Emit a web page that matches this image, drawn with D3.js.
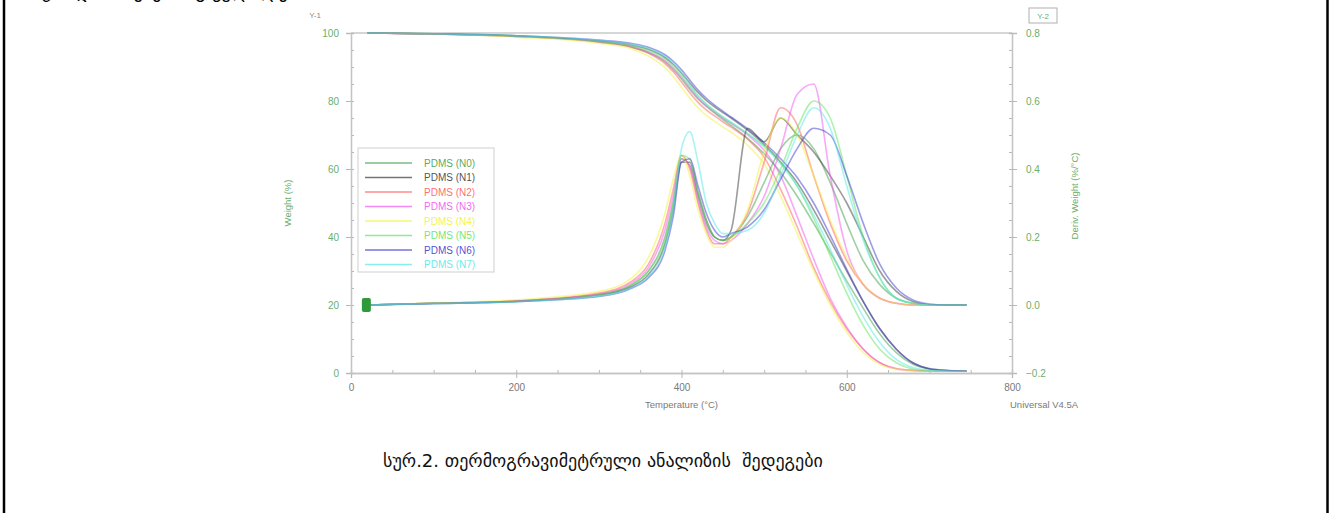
<!DOCTYPE html>
<html>
<head>
<meta charset="utf-8">
<script src="https://cdn.jsdelivr.net/npm/d3@7"></script>
<style>
  body { margin: 0; background: #fff; }
  svg { display: block; }
  .tick text { font-family: "Liberation Sans", Arial, sans-serif; }
</style>
</head>
<body>
<div id="chart"></div>
<script>
// Temperature grid (°C) shared by every series
var TEMPS = [20, 100, 200, 300, 340, 360, 380, 390, 400, 410, 420, 430, 440, 450, 460, 480, 500, 520, 540, 560, 580, 600, 620, 640, 660, 680, 700, 720, 745];

// Series names and colours (legend order)
var NAMES = ['PDMS (N0)', 'PDMS (N1)', 'PDMS (N2)', 'PDMS (N3)', 'PDMS (N4)', 'PDMS (N5)', 'PDMS (N6)', 'PDMS (N7)'];
var COLORS = ['#3f9f4a', '#3a3a3a', '#ff5c5c', '#f055f0', '#f2f23a', '#5ee65e', '#3a3ad0', '#55e8e8'];

// Weight (%) - left axis
var W_N0 = [100, 99.8, 99.2, 97.4, 95.8, 94.2, 91.5, 89.2, 86.5, 83.4, 80.6, 78.4, 76.5, 74.6, 72.8, 69.0, 64.5, 59.0, 52.0, 44.0, 35.5, 27.0, 19.0, 11.5, 6.0, 2.6, 1.2, 0.7, 0.5];
var W_N1 = [100, 99.7, 99.0, 97.6, 96.4, 95.2, 92.8, 90.8, 88.2, 85.3, 82.5, 80.2, 78.3, 76.6, 75.0, 71.4, 67.2, 62.0, 56.0, 48.0, 39.0, 30.0, 21.0, 13.0, 7.0, 3.0, 1.2, 0.7, 0.5];
var W_N2 = [100, 99.7, 99.0, 97.3, 95.8, 94.0, 91.0, 88.6, 85.6, 82.4, 79.6, 77.4, 75.6, 73.9, 72.3, 68.8, 63.5, 54.0, 43.0, 31.0, 21.0, 13.0, 7.0, 3.0, 1.3, 0.8, 0.6, 0.5, 0.5];
var W_N3 = [100, 99.7, 99.0, 97.4, 96.0, 94.4, 91.8, 89.6, 86.9, 83.8, 80.9, 78.6, 76.7, 75.0, 73.4, 70.0, 65.5, 58.0, 46.0, 33.5, 22.0, 13.5, 7.0, 3.0, 1.2, 0.7, 0.5, 0.5, 0.5];
var W_N4 = [100, 99.7, 98.8, 97.0, 95.3, 93.2, 89.8, 87.2, 84.0, 80.8, 78.0, 75.8, 74.0, 72.4, 70.8, 67.0, 61.5, 52.0, 41.0, 30.0, 20.0, 12.0, 6.0, 2.6, 1.2, 0.7, 0.5, 0.5, 0.5];
var W_N5 = [100, 99.8, 99.1, 97.5, 96.2, 94.8, 92.3, 90.1, 87.4, 84.3, 81.4, 79.0, 77.0, 75.2, 73.6, 70.4, 66.8, 62.0, 55.0, 45.5, 34.5, 23.5, 14.0, 7.0, 3.0, 1.2, 0.7, 0.5, 0.5];
var W_N6 = [100, 99.8, 99.2, 97.9, 96.9, 95.8, 93.6, 91.7, 89.2, 86.2, 83.2, 80.8, 78.8, 77.0, 75.3, 71.8, 67.8, 63.0, 57.5, 50.0, 40.5, 30.5, 21.0, 13.0, 7.0, 3.0, 1.3, 0.8, 0.6];
var W_N7 = [100, 99.8, 99.2, 97.8, 96.7, 95.5, 93.2, 91.2, 88.4, 84.8, 81.6, 79.2, 77.2, 75.4, 73.8, 70.4, 66.5, 61.5, 55.0, 46.5, 36.5, 26.0, 16.5, 9.0, 4.0, 1.6, 0.8, 0.6, 0.5];

// Deriv. weight (%/°C) - right axis
var D_N0 = [0, 0.005, 0.012, 0.03, 0.06, 0.10, 0.20, 0.30, 0.43, 0.41, 0.32, 0.24, 0.20, 0.19, 0.20, 0.26, 0.36, 0.46, 0.50, 0.46, 0.36, 0.24, 0.13, 0.06, 0.02, 0.005, 0, 0, 0];
var D_N1 = [0, 0.005, 0.012, 0.03, 0.055, 0.09, 0.18, 0.28, 0.42, 0.42, 0.33, 0.25, 0.20, 0.19, 0.22, 0.52, 0.48, 0.55, 0.50, 0.45, 0.38, 0.30, 0.20, 0.10, 0.04, 0.01, 0, 0, 0];
var D_N2 = [0, 0.005, 0.012, 0.035, 0.07, 0.12, 0.24, 0.34, 0.44, 0.40, 0.30, 0.22, 0.18, 0.18, 0.20, 0.27, 0.42, 0.58, 0.53, 0.38, 0.24, 0.13, 0.06, 0.02, 0.005, 0, 0, 0, 0];
var D_N3 = [0, 0.005, 0.012, 0.032, 0.065, 0.11, 0.22, 0.32, 0.43, 0.41, 0.31, 0.23, 0.19, 0.18, 0.19, 0.24, 0.32, 0.46, 0.62, 0.65, 0.38, 0.16, 0.06, 0.02, 0.005, 0, 0, 0, 0];
var D_N4 = [0, 0.006, 0.015, 0.04, 0.08, 0.14, 0.27, 0.37, 0.44, 0.38, 0.28, 0.21, 0.17, 0.17, 0.19, 0.28, 0.45, 0.55, 0.50, 0.38, 0.25, 0.14, 0.06, 0.02, 0.005, 0, 0, 0, 0];
var D_N5 = [0, 0.005, 0.01, 0.03, 0.06, 0.10, 0.19, 0.30, 0.44, 0.43, 0.33, 0.25, 0.20, 0.19, 0.20, 0.24, 0.30, 0.40, 0.52, 0.60, 0.55, 0.38, 0.20, 0.08, 0.02, 0.005, 0, 0, 0];
var D_N6 = [0, 0.004, 0.01, 0.025, 0.05, 0.08, 0.16, 0.26, 0.42, 0.43, 0.35, 0.27, 0.22, 0.20, 0.21, 0.23, 0.28, 0.37, 0.46, 0.52, 0.50, 0.38, 0.24, 0.12, 0.05, 0.015, 0.003, 0, 0];
var D_N7 = [0, 0.004, 0.01, 0.026, 0.05, 0.085, 0.17, 0.28, 0.46, 0.51, 0.42, 0.30, 0.24, 0.21, 0.21, 0.22, 0.27, 0.38, 0.50, 0.58, 0.52, 0.35, 0.19, 0.08, 0.02, 0.005, 0, 0, 0];

var WEIGHTS = [W_N0, W_N1, W_N2, W_N3, W_N4, W_N5, W_N6, W_N7];
var DERIVS = [D_N0, D_N1, D_N2, D_N3, D_N4, D_N5, D_N6, D_N7];

// Axis ticks
var X_TICKS = [0, 200, 400, 600, 800];
var W_TICKS = [0, 20, 40, 60, 80, 100];
var D_TICKS = [-0.2, 0.0, 0.2, 0.4, 0.6, 0.8];

var CAPTION = 'სურ.2. თერმოგრავიმეტრული ანალიზის  შედეგები';
var TOP_LINE = 'ჩატარდა ნიმუშების გ  ცვლილების (ნახ.2)';

var W = 1336, H = 513;
var GREEN = '#6cae6c';
var FONT = '"Liberation Sans", Arial, sans-serif';

var svg = d3.select('#chart').append('svg')
  .attr('width', W)
  .attr('height', H);

// page borders
svg.append('line').attr('x1', 4).attr('x2', 4).attr('y1', 0).attr('y2', H)
  .attr('stroke', '#000').attr('stroke-width', 2.5);
svg.append('line').attr('x1', 1327.5).attr('x2', 1327.5).attr('y1', 0).attr('y2', H)
  .attr('stroke', '#000').attr('stroke-width', 2.5);

// line of body text above, mostly outside the picture
svg.append('text')
  .attr('x', 22).attr('y', -2)
  .style('font-family', '"DejaVu Sans", sans-serif')
  .style('font-size', '18px')
  .text(TOP_LINE);

// scales
var x = d3.scaleLinear().domain([0, 800]).range([351, 1012]);
var yW = d3.scaleLinear().domain([0, 100]).range([373, 33]);
var yD = d3.scaleLinear().domain([-0.2, 0.8]).range([373, 33]);

var g = svg.append('g');

// top frame line
g.append('line').attr('x1', x(0)).attr('x2', x(800)).attr('y1', yW(100)).attr('y2', yW(100))
  .attr('stroke', '#c8c8c8').attr('stroke-width', 1.5);

function styleAxis(sel, col) {
  sel.select('.domain').attr('stroke', '#c4c4c4').attr('stroke-width', 1.3);
  sel.selectAll('.tick line').attr('stroke', '#b8b8b8');
  sel.selectAll('.tick text').attr('fill', col).style('font-size', '10px');
}

// minor ticks
g.append('g').attr('transform', 'translate(0,' + yW(0) + ')')
  .call(d3.axisBottom(x).tickValues(d3.range(0, 801, 50)).tickSize(-3).tickFormat(''))
  .call(styleAxis, '#888');
g.append('g').attr('transform', 'translate(' + x(0) + ',0)')
  .call(d3.axisLeft(yW).tickValues(d3.range(0, 101, 5)).tickSize(-3).tickFormat(''))
  .call(styleAxis, GREEN);
g.append('g').attr('transform', 'translate(' + x(800) + ',0)')
  .call(d3.axisRight(yD).tickValues(d3.range(-0.2, 0.81, 0.05)).tickSize(-3).tickFormat(''))
  .call(styleAxis, GREEN);

// major axes
g.append('g').attr('transform', 'translate(0,' + yW(0) + ')')
  .call(d3.axisBottom(x).tickValues(X_TICKS).tickSize(5).tickPadding(6).tickFormat(d3.format('d')))
  .call(styleAxis, '#7a7a7a');
g.append('g').attr('transform', 'translate(' + x(0) + ',0)')
  .call(d3.axisLeft(yW).tickValues(W_TICKS).tickSize(5).tickPadding(7).tickFormat(d3.format('d')))
  .call(styleAxis, GREEN);
g.append('g').attr('transform', 'translate(' + x(800) + ',0)')
  .call(d3.axisRight(yD).tickValues(D_TICKS).tickSize(5).tickPadding(9).tickFormat(d3.format('.1f')))
  .call(styleAxis, GREEN);

// axis titles
g.append('text').attr('x', x(400)).attr('y', 408).attr('text-anchor', 'middle')
  .attr('fill', '#7a7a7a').style('font-family', FONT).style('font-size', '9.5px')
  .text('Temperature (°C)');
g.append('text').attr('x', 1010).attr('y', 408)
  .attr('fill', '#7a7a7a').style('font-family', FONT).style('font-size', '9.5px')
  .text('Universal V4.5A');
g.append('text').attr('transform', 'translate(291,' + yW(50) + ') rotate(-90)')
  .attr('text-anchor', 'middle').attr('fill', GREEN)
  .style('font-family', FONT).style('font-size', '9.5px')
  .text('Weight (%)');
g.append('text').attr('transform', 'translate(1078,196) rotate(-90)')
  .attr('text-anchor', 'middle').attr('fill', GREEN)
  .style('font-family', FONT).style('font-size', '9.5px')
  .text('Deriv. Weight (%/°C)');
g.append('text').attr('x', 315).attr('y', 18).attr('text-anchor', 'middle')
  .attr('fill', '#8a8a8a').style('font-family', FONT).style('font-size', '8px')
  .text('Y-1');
g.append('rect').attr('x', 1029).attr('y', 8).attr('width', 28).attr('height', 15)
  .attr('fill', 'none').attr('stroke', '#b0b0b0');
g.append('text').attr('x', 1043).attr('y', 19).attr('text-anchor', 'middle')
  .attr('fill', GREEN).style('font-family', FONT).style('font-size', '8px')
  .text('Y-2');

// curves
var wLine = d3.line().curve(d3.curveMonotoneX)
  .x(function(d, i) { return x(TEMPS[i]); })
  .y(function(d) { return yW(d); });
var dLine = d3.line().curve(d3.curveMonotoneX)
  .x(function(d, i) { return x(TEMPS[i]); })
  .y(function(d) { return yD(d); });

var curves = g.append('g');
WEIGHTS.forEach(function(s, i) {
  curves.append('path').datum(s)
    .attr('d', wLine)
    .attr('fill', 'none')
    .attr('stroke', COLORS[i])
    .attr('stroke-width', 1.6)
    .attr('stroke-opacity', 0.5);
});
DERIVS.forEach(function(s, i) {
  curves.append('path').datum(s)
    .attr('d', dLine)
    .attr('fill', 'none')
    .attr('stroke', COLORS[i])
    .attr('stroke-width', 1.6)
    .attr('stroke-opacity', 0.5);
});

// start cursor marker
g.append('rect').attr('x', x(18) - 4).attr('y', yW(20) - 7).attr('width', 9).attr('height', 14)
  .attr('rx', 2).attr('fill', '#2f9a3c');

// legend
var leg = g.append('g').attr('transform', 'translate(358,148)');
leg.append('rect').attr('width', 136).attr('height', 124)
  .attr('fill', '#fff').attr('stroke', '#cfcfcf');
NAMES.forEach(function(n, i) {
  var yy = 15 + i * 14.5;
  leg.append('line').attr('x1', 7).attr('x2', 54).attr('y1', yy).attr('y2', yy)
    .attr('stroke', COLORS[i]).attr('stroke-width', 1.6).attr('stroke-opacity', 0.7);
  leg.append('text').attr('x', 66).attr('y', yy + 3.5)
    .attr('fill', COLORS[i]).attr('fill-opacity', 0.9)
    .style('font-family', FONT).style('font-size', '10px')
    .text(n);
});

// caption
svg.append('text')
  .attr('x', 383).attr('y', 467)
  .style('font-family', '"DejaVu Sans", sans-serif')
  .style('font-size', '18px')
  .style('white-space', 'pre')
  .attr('fill', '#111')
  .text(CAPTION);
</script>
</body>
</html>
